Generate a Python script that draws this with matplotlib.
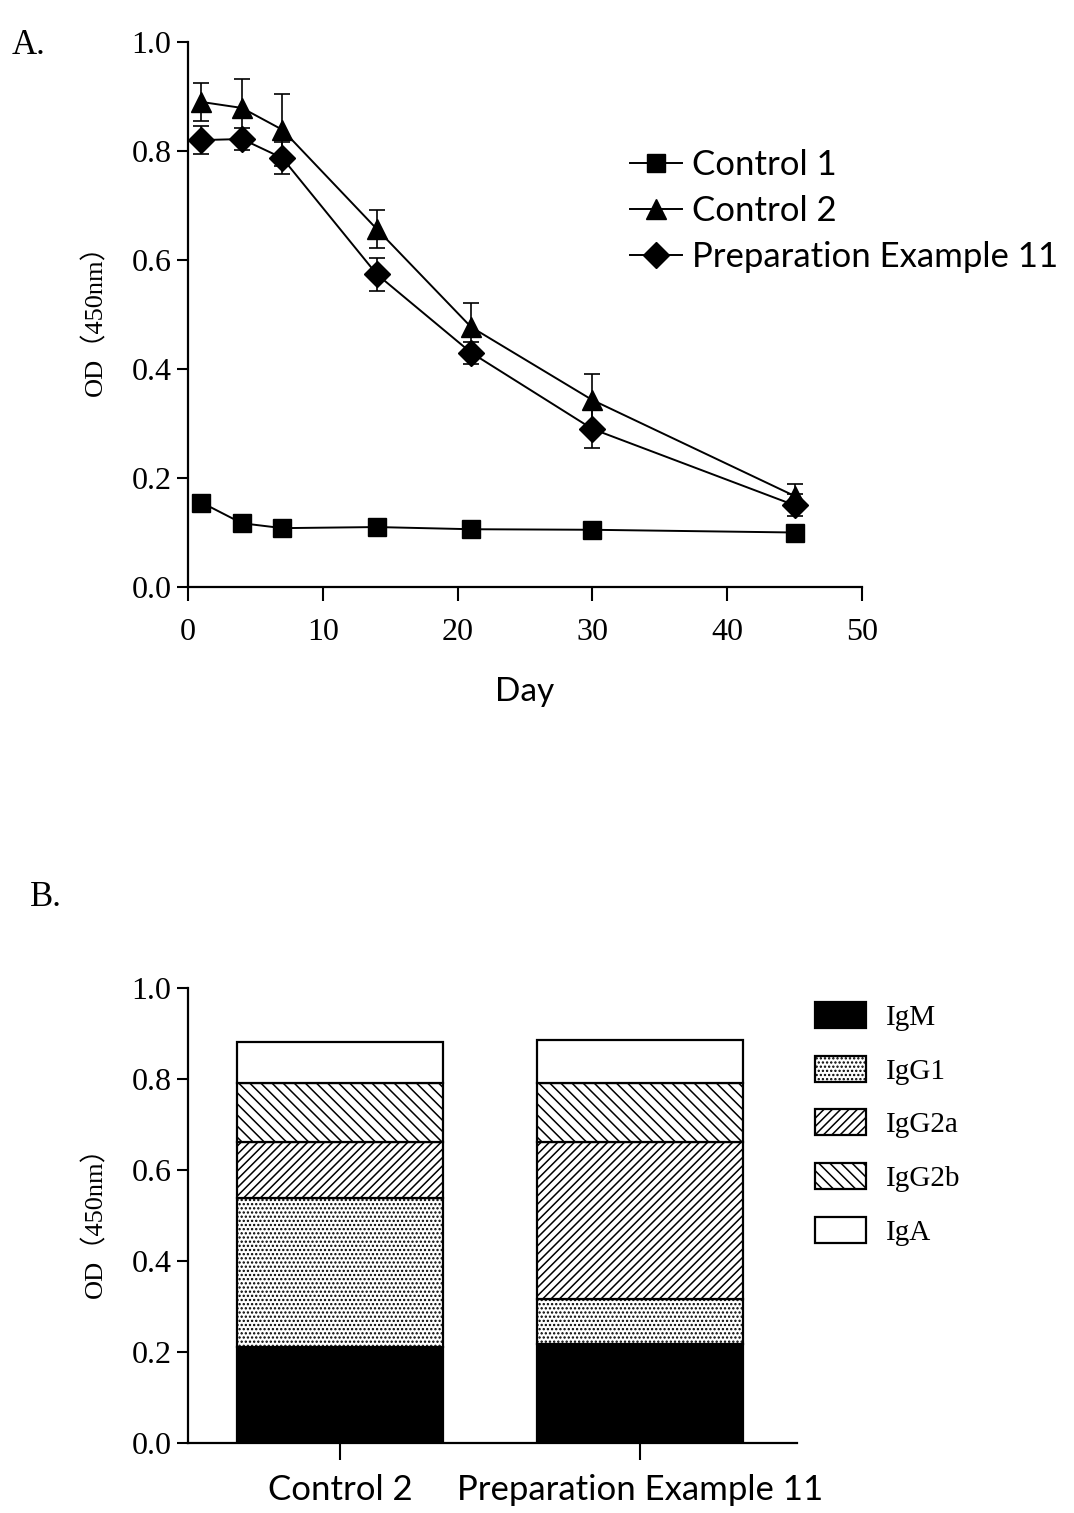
import matplotlib
matplotlib.use("Agg")
import matplotlib.pyplot as plt
from matplotlib.lines import Line2D
import numpy as np

# ---------------- data ----------------
days = [1, 4, 7, 14, 21, 30, 45]
control1 = [0.155, 0.117, 0.108, 0.110, 0.106, 0.105, 0.100]
control1_err = [0.008, 0.006, 0.005, 0.005, 0.005, 0.005, 0.005]
control2 = [0.890, 0.879, 0.839, 0.657, 0.477, 0.343, 0.167]
control2_err = [0.035, 0.053, 0.066, 0.035, 0.044, 0.047, 0.022]
prep11 = [0.820, 0.822, 0.787, 0.574, 0.430, 0.290, 0.150]
prep11_err = [0.025, 0.020, 0.030, 0.030, 0.020, 0.035, 0.020]
series_names = ["Control 1", "Control 2", "Preparation Example 11"]

groups = ["Control 2", "Preparation Example 11"]
isotypes = ["IgM", "IgG1", "IgG2a", "IgG2b", "IgA"]
igm = [0.211, 0.218]
igg1 = [0.327, 0.098]
igg2a = [0.123, 0.345]
igg2b = [0.130, 0.130]
iga = [0.090, 0.095]

yticks = [0.0, 0.2, 0.4, 0.6, 0.8, 1.0]
xticks_a = [0, 10, 20, 30, 40, 50]

# ---------------- style ----------------
serif = ["Liberation Serif", "DejaVu Serif"]
sans = ["Lato", "DejaVu Sans"]
ylab_family = ["Liberation Serif", "Noto Sans CJK SC", "DejaVu Sans"]
plt.rcParams["hatch.linewidth"] = 1.1

W, H = 1074, 1513
fig = plt.figure(figsize=(W / 100, H / 100), dpi=100)

def style_axes(ax):
    for s in ["top", "right"]:
        ax.spines[s].set_visible(False)
    for s in ["left", "bottom"]:
        ax.spines[s].set_linewidth(1.6)
    ax.tick_params(axis="both", direction="out", length=8, width=1.5,
                   labelsize=23, pad=4)
    ax.tick_params(axis="x", length=10, pad=12)
    for lab in ax.get_xticklabels() + ax.get_yticklabels():
        lab.set_family(serif)

# ---------------- panel A ----------------
axA = fig.add_axes([188 / W, 1 - 587 / H, (862 - 188) / W, (587 - 42) / H])
markers = ["s", "^", "D"]
msizes = [13, 15, 13]
for vals, errs, m, ms, name in zip([control1, control2, prep11],
                                   [control1_err, control2_err, prep11_err],
                                   markers, msizes, series_names):
    axA.errorbar(days, vals, yerr=errs, color="black", marker=m,
                 markersize=ms, lw=1.4, capsize=6, elinewidth=1.2,
                 capthick=1.2, label=name, clip_on=False)
axA.set_xlim(0, 50)
axA.set_ylim(0, 1.0)
axA.set_yticks(yticks)
axA.set_yticklabels([f"{v:.1f}" for v in yticks])
axA.set_xticks(xticks_a)
style_axes(axA)
axA.set_xlabel("Day", family=sans, fontsize=24, labelpad=22)
axA.set_ylabel("OD（450nm）", family=ylab_family, fontsize=19, labelpad=17)
handlesA = [Line2D([], [], color="black", marker=m, markersize=ms, lw=1.4)
            for m, ms in zip(markers, msizes)]
axA.legend(handles=handlesA, labels=series_names, loc="upper left",
           bbox_to_anchor=(616 / W, 1 - 135 / H),
           bbox_transform=fig.transFigure, frameon=False,
           prop={"family": sans, "size": 25}, handlelength=1.5,
           handletextpad=0.3, labelspacing=0.4, borderaxespad=0)
fig.text(12 / W, 1 - 45 / H, "A.", family=serif, fontsize=25, va="center")

# ---------------- panel B ----------------
axB = fig.add_axes([188 / W, 1 - 1443 / H, (797 - 188) / W, (1443 - 988) / H])
x = np.arange(len(groups))
bw = 0.685
layers = [igm, igg1, igg2a, igg2b, iga]
faces = ["black", "white", "white", "white", "white"]
hatches = [None, "....", "////", "\\\\\\", None]
bottom = np.zeros(len(groups))
handles = []
for name, vals, fc, h in zip(isotypes, layers, faces, hatches):
    b = axB.bar(x, vals, bw, bottom=bottom, color=fc, edgecolor="black",
                hatch=h, linewidth=1.6, label=name)
    handles.append(b)
    bottom = bottom + np.array(vals)
axB.set_xlim(-0.507, 1.523)
axB.set_ylim(0, 1.0)
axB.set_yticks(yticks)
axB.set_yticklabels([f"{v:.1f}" for v in yticks])
axB.set_xticks(x)
axB.set_xticklabels(groups)
style_axes(axB)
for lab in axB.get_xticklabels():
    lab.set_family(sans)
    lab.set_fontsize(25)
axB.tick_params(axis="x", pad=10, length=12)
axB.set_ylabel("OD（450nm）", family=ylab_family, fontsize=19, labelpad=17)
axB.legend(handles=handles, labels=isotypes, loc="upper left",
           bbox_to_anchor=(803 / W, 1 - 990 / H),
           bbox_transform=fig.transFigure, frameon=False,
           prop={"family": serif, "size": 21}, handlelength=1.75,
           handleheight=1.0, handletextpad=0.7, labelspacing=0.85,
           borderaxespad=0)
fig.text(30 / W, 1 - 898 / H, "B.", family=serif, fontsize=25, va="center")

fig.savefig("out.png", dpi=100)
